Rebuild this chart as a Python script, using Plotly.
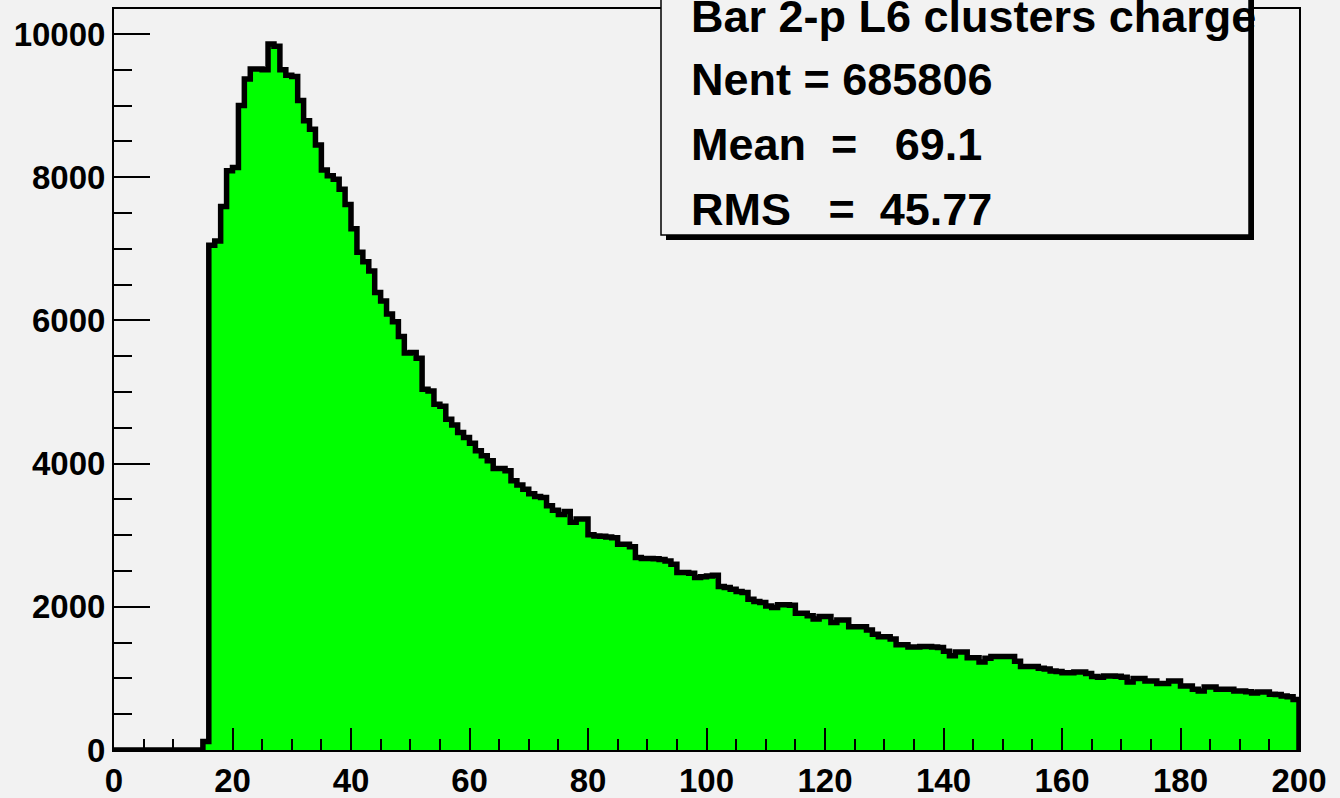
import plotly.graph_objects as go

# ---- data: bin contents for 200 bins of width 1, from x=0 to x=200 ----
bin_low_edges = list(range(0, 200))
counts = [
    0, 0, 0, 0, 0, 0, 0, 0, 0, 0,
    0, 0, 0, 0, 0, 120, 7050, 7110, 7590, 8090,
    8135, 9000, 9370, 9510, 9510, 9500, 9860, 9830, 9500, 9425,
    9405, 9070, 8790, 8670, 8450, 8100, 8020, 7970, 7830, 7620,
    7280, 6950, 6820, 6690, 6390, 6270, 6090, 5980, 5775, 5545,
    5550, 5470, 5040, 5015, 4830, 4800, 4620, 4540, 4435, 4365,
    4285, 4180, 4110, 4040, 3930, 3930, 3900, 3760, 3700, 3640,
    3580, 3540, 3525, 3410, 3350, 3290, 3330, 3180, 3225, 3225,
    3005, 2990, 2985, 2975, 2965, 2875, 2875, 2840, 2690, 2675,
    2675, 2670, 2660, 2640, 2595, 2480, 2480, 2470, 2410, 2420,
    2430, 2440, 2285, 2270, 2245, 2215, 2200, 2105, 2075, 2060,
    2010, 1990, 2030, 2030, 2020, 1910, 1910, 1875, 1830, 1865,
    1865, 1780, 1815, 1815, 1720, 1720, 1720, 1675, 1615, 1580,
    1580, 1550, 1470, 1470, 1440, 1440, 1445, 1445, 1440, 1430,
    1380, 1315, 1370, 1370, 1290, 1290, 1230, 1280, 1305, 1305,
    1305, 1305, 1240, 1165, 1165, 1165, 1140, 1130, 1105, 1095,
    1080, 1080, 1090, 1090, 1070, 1025, 1015, 1035, 1035, 1030,
    1015, 950, 1000, 1000, 965, 965, 930, 930, 965, 965,
    895, 895, 850, 825, 880, 880, 850, 850, 850, 825,
    825, 815, 795, 810, 810, 780, 775, 755, 745, 705,
]
x_max = 200

stats_title = "Bar 2-p L6 clusters charge"
stats_lines = [
    "Nent = 685806",
    "Mean\u00a0\u00a0=\u00a0\u00a0\u00a069.1",
    "RMS\u00a0\u00a0\u00a0=\u00a0\u00a045.77",
]

x_tickvals = [0, 20, 40, 60, 80, 100, 120, 140, 160, 180, 200]
y_tickvals = [0, 2000, 4000, 6000, 8000, 10000]

# ---- figure geometry (pixels) ----
W, H = 1340, 798
L, R, T, B = 114, 41, 9, 48
pw, ph = W - L - R, H - T - B
y_top = 10349

def px_x(p):
    return (p - L) / pw

def px_y(p):
    return (H - B - p) / ph

BG = "#f2f2f2"
FONT = "Liberation Sans, Arial, sans-serif"

xs = bin_low_edges + [x_max, x_max]
ys = counts + [counts[-1], 0]

fig = go.Figure()
fig.add_trace(go.Scatter(
    x=xs, y=ys, mode="lines", line=dict(shape="hv", color="black", width=5.5),
    fill="tozeroy", fillcolor="#00ff00", hoverinfo="skip", showlegend=False,
))

axis_font = dict(family=FONT, size=33, color="black", weight="bold")
fig.update_xaxes(
    range=[0, x_max], showgrid=False, zeroline=False, automargin=False,
    showline=True, linecolor="black", linewidth=2, mirror=True,
    ticks="inside", ticklen=22, tickwidth=2, tickcolor="black",
    tickvals=x_tickvals, ticktext=[str(v) for v in x_tickvals],
    minor=dict(dtick=5, tick0=0, ticks="inside", ticklen=11, tickwidth=2, tickcolor="black", showgrid=False),
    tickfont=axis_font,
)
fig.update_yaxes(
    range=[0, y_top], showgrid=False, zeroline=False, automargin=False,
    showline=True, linecolor="black", linewidth=2, mirror=True,
    ticks="inside", ticklen=36, tickwidth=2, tickcolor="black",
    tickvals=y_tickvals, ticktext=[str(v) for v in y_tickvals],
    minor=dict(dtick=500, tick0=0, ticks="inside", ticklen=18, tickwidth=2, tickcolor="black", showgrid=False),
    tickfont=axis_font,
)

# stats box with shadow
fig.add_shape(type="rect", xref="paper", yref="paper",
              x0=px_x(666), x1=px_x(1254), y0=px_y(240), y1=px_y(-20),
              fillcolor="black", line=dict(width=0), layer="above")
fig.add_shape(type="rect", xref="paper", yref="paper",
              x0=px_x(661), x1=px_x(1249), y0=px_y(235), y1=px_y(-25),
              fillcolor=BG, line=dict(color="black", width=1.5), layer="above")

text_font = dict(family=FONT, size=45, color="black", weight="bold")
fig.add_annotation(xref="paper", yref="paper", x=px_x(689), y=px_y(17),
                   xanchor="left", yanchor="middle", text=stats_title,
                   showarrow=False, font=text_font)
for i, line in enumerate(stats_lines):
    fig.add_annotation(xref="paper", yref="paper", x=px_x(689), y=px_y(79 + 65 * i),
                       xanchor="left", yanchor="middle", text=line,
                       showarrow=False, font=text_font)

fig.update_layout(
    width=W, height=H,
    margin=dict(l=L, r=R, t=T, b=B, pad=0, autoexpand=False),
    paper_bgcolor=BG, plot_bgcolor=BG,
    showlegend=False,
)

fig.write_html(
    "out.html",
    config={"displayModeBar": False},
    post_script="document.body.style.margin='0';document.body.style.padding='0';"
                "document.body.style.background='" + BG + "';",
)
